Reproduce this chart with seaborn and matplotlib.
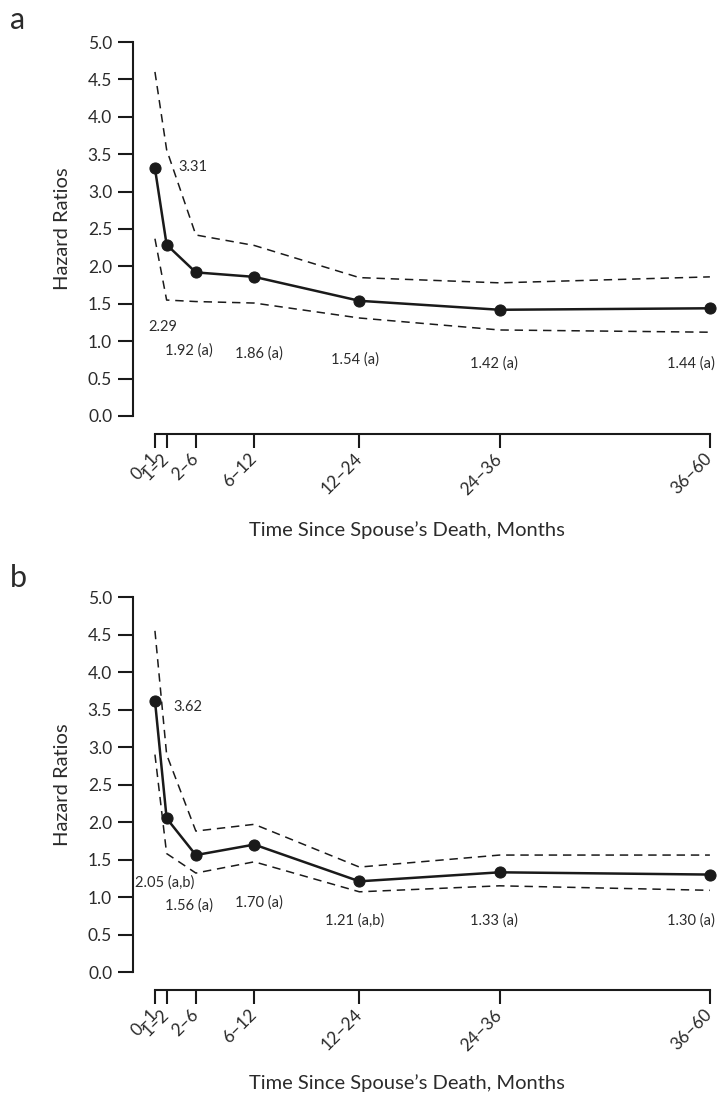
import numpy as np
import pandas as pd
import seaborn as sns
import matplotlib.pyplot as plt

# interval bounds (months) and tick labels
start_m = [0, 1, 2, 6, 12, 24, 36]
end_m = [1, 2, 6, 12, 24, 36, 60]
tick_labels = ["0\u20131", "1\u20132", "2\u20136", "6\u201312", "12\u201324", "24\u201336", "36\u201360"]

# panel a
hr_a = [3.31, 2.29, 1.92, 1.86, 1.54, 1.42, 1.44]
upper_a = [4.60, 3.56, 2.42, 2.28, 1.85, 1.78, 1.86]
lower_a = [2.37, 1.55, 1.53, 1.51, 1.31, 1.15, 1.12]
notes_a = ["3.31", "2.29", "1.92 (a)", "1.86 (a)", "1.54 (a)", "1.42 (a)", "1.44 (a)"]

# panel b
hr_b = [3.62, 2.05, 1.56, 1.70, 1.21, 1.33, 1.30]
upper_b = [4.55, 2.90, 1.88, 1.97, 1.40, 1.56, 1.56]
lower_b = [2.90, 1.58, 1.32, 1.47, 1.07, 1.15, 1.09]
notes_b = ["3.62", "2.05 (a,b)", "1.56 (a)", "1.70 (a)", "1.21 (a,b)", "1.33 (a)", "1.30 (a)"]

# where the value notes go (x shift, y position, alignment)
note_pos_a = [(2.0, 3.33, "left"), (-0.3, 1.19, "center"), (-0.6, 0.87, "center"),
              (0.4, 0.84, "center"), (-0.4, 0.75, "center"), (-0.5, 0.70, "center"),
              (0.4, 0.70, "right")]
note_pos_b = [(1.55, 3.53, "left"), (-0.2, 1.19, "center"), (-0.6, 0.89, "center"),
              (0.4, 0.93, "center"), (-0.4, 0.69, "center"), (-0.5, 0.69, "center"),
              (0.4, 0.69, "right")]

mid = (np.array(start_m) + np.array(end_m)) / 2

sns.set_style("ticks")
plt.rcParams['font.family'] = ['Lato', 'DejaVu Sans']
ink = "#1a1a1a"
txt = "#2b2b2b"

fig = plt.figure(figsize=(7.2, 10.97), dpi=100)
ax_a = fig.add_axes([0.1847, 0.6208, 0.804, 0.3409])
ax_b = fig.add_axes([0.1847, 0.1139, 0.804, 0.3418])


def draw_panel(ax, hr, upper, lower, notes, note_pos, xlab_y):
    df = pd.DataFrame({"x": mid, "hr": hr, "up": upper, "lo": lower})
    for col in ["up", "lo"]:
        sns.lineplot(data=df, x="x", y=col, ax=ax, color=ink, lw=1.1,
                     linestyle=(0, (5.5, 3.8)), clip_on=False)
    sns.lineplot(data=df, x="x", y="hr", ax=ax, color=ink, lw=1.8,
                 marker="o", markersize=8, markeredgecolor=ink, clip_on=False)

    for xv, note, (dx, yv, ha) in zip(mid, notes, note_pos):
        ax.text(xv + dx, yv, note, ha=ha, va="center", fontsize=10.5, color=txt)

    # spines first: moving a spine resets the ticks
    sns.despine(ax=ax)
    ax.spines["bottom"].set_position(("outward", 13))
    ax.spines["bottom"].set_bounds(mid[0], mid[-1])
    ax.spines["left"].set_bounds(0, 5)
    for s in ["left", "bottom"]:
        ax.spines[s].set_linewidth(1.5)
        ax.spines[s].set_color(ink)

    ax.set_xlim(-1.38, 48.17)
    ax.set_ylim(0, 5)
    ax.set_yticks(np.arange(0, 5.01, 0.5))
    ax.set_yticklabels([f"{v:.1f}" for v in np.arange(0, 5.01, 0.5)])
    ax.set_xticks(mid)
    ax.set_xticklabels(tick_labels, rotation=45, ha="right", va="center",
                       rotation_mode="anchor")
    ax.tick_params(axis="y", length=11, width=1.5, color=ink, labelsize=12.5,
                   labelcolor=txt, pad=4)
    ax.tick_params(axis="x", length=10, width=1.5, color=ink, labelsize=12.5,
                   labelcolor=txt, pad=6)

    ax.set_xlabel("")
    ax.set_ylabel("Hazard Ratios", fontsize=14.5, color=txt, labelpad=12)
    fig.text(407 / 720, xlab_y, "Time Since Spouse\u2019s Death, Months",
             ha="center", va="center", fontsize=14.5, color=txt)
    ax.set_facecolor("white")


draw_panel(ax_a, hr_a, upper_a, lower_a, notes_a, note_pos_a, 1 - 530 / 1097)
draw_panel(ax_b, hr_b, upper_b, lower_b, notes_b, note_pos_b, 1 - 1083 / 1097)

fig.text(10 / 720, 1 - 20 / 1097, "a", fontsize=22, color=txt, va="center")
fig.text(10 / 720, 1 - 578 / 1097, "b", fontsize=22, color=txt, va="center")

fig.savefig("out.png", dpi=100, facecolor="white")
